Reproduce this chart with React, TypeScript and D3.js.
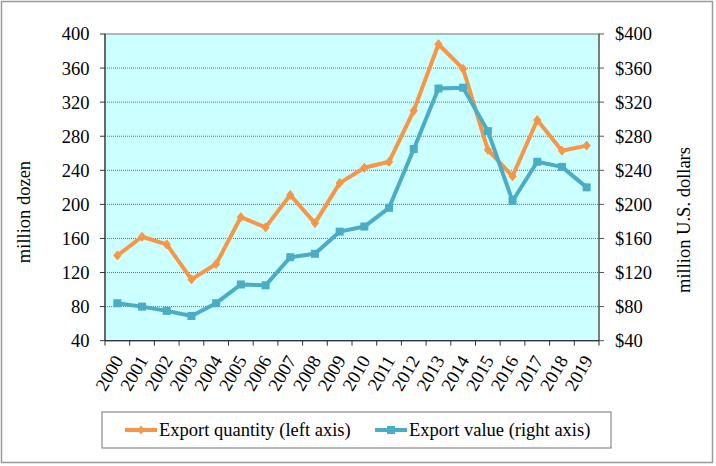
import React from "react";
import * as d3 from "d3";

const years = ["2000","2001","2002","2003","2004","2005","2006","2007","2008","2009","2010","2011","2012","2013","2014","2015","2016","2017","2018","2019"];
const exportQuantity = [140, 162, 153, 112, 130, 185, 173, 211, 178, 225, 243, 250, 310, 388, 359, 264, 233, 299, 263, 269];
const exportValue = [84, 80, 75, 69, 84, 106, 105, 138, 142, 168, 174, 196, 265, 336, 337, 286, 204, 250, 244, 220];
const leftTicks = [40, 80, 120, 160, 200, 240, 280, 320, 360, 400];
const rightTicks = [40, 80, 120, 160, 200, 240, 280, 320, 360, 400];

const W = 716, H = 466;
const plot = { x0: 105, x1: 599, y0: 34, y1: 340.7 };
const FONT = "Liberation Serif, Tinos, DejaVu Serif, serif";
const FS = 18.5;
const ORANGE = "#F79646";
const TEAL = "#4BACC6";

export default function App() {
  const x = d3.scaleBand<string>().domain(years).range([plot.x0, plot.x1]);
  const yL = d3.scaleLinear().domain([40, 400]).range([plot.y1, plot.y0]);
  const yR = d3.scaleLinear().domain([40, 400]).range([plot.y1, plot.y0]);
  const cx = (d: string) => (x(d) as number) + x.bandwidth() / 2;

  const lineQ = d3.line<number>().x((_, i) => cx(years[i])).y((v) => yL(v));
  const lineV = d3.line<number>().x((_, i) => cx(years[i])).y((v) => yR(v));

  const diamond = (px: number, py: number, r = 4.5) =>
    `M${px},${py - r}L${px + r * 0.8},${py}L${px},${py + r}L${px - r * 0.8},${py}Z`;

  const boundaries = d3.range(years.length + 1).map((i) => plot.x0 + i * x.bandwidth());
  const ts = { fontFamily: FONT, fontSize: FS } as React.CSSProperties;

  return (
    <svg width={W} height={H} style={{ position: "absolute", left: 0, top: 0, background: "#fff" }}>
      <rect x={1.5} y={1.5} width={711} height={461} fill="#fff" stroke="#9a9a9a" strokeWidth={1.5} />
      <rect x={plot.x0} y={plot.y0} width={plot.x1 - plot.x0} height={plot.y1 - plot.y0} fill="#CCFFFF" />
      {leftTicks.slice(1, -1).map((t) => (
        <line key={"g" + t} x1={plot.x0} x2={plot.x1} y1={yL(t)} y2={yL(t)} stroke="#6f6f6f" strokeWidth={1} strokeDasharray="1,1" />
      ))}
      <rect x={plot.x0} y={plot.y0} width={plot.x1 - plot.x0} height={plot.y1 - plot.y0} fill="none" stroke="#8a8a8a" strokeWidth={1.2} />
      <line x1={plot.x0} x2={plot.x0} y1={plot.y0} y2={plot.y1} stroke="#333" strokeWidth={1.2} />
      {leftTicks.map((t) => (
        <g key={"l" + t}>
          <line x1={plot.x0 - 5} x2={plot.x0} y1={yL(t)} y2={yL(t)} stroke="#333" />
          <text x={89.5} y={yL(t)} dy="0.35em" textAnchor="end" style={ts} fill="#000">{t}</text>
        </g>
      ))}
      <line x1={plot.x1} x2={plot.x1} y1={plot.y0} y2={plot.y1} stroke="#555" strokeWidth={1.2} />
      {rightTicks.map((t) => (
        <g key={"r" + t}>
          <line x1={plot.x1} x2={plot.x1 + 5} y1={yR(t)} y2={yR(t)} stroke="#555" />
          <text x={615} y={yR(t)} dy="0.35em" textAnchor="start" style={ts} fill="#000">{"$" + t}</text>
        </g>
      ))}
      <line x1={plot.x0} x2={plot.x1} y1={plot.y1} y2={plot.y1} stroke="#333" strokeWidth={1.2} />
      {boundaries.map((b, i) => (
        <line key={"b" + i} x1={b} x2={b} y1={plot.y1} y2={plot.y1 + 5} stroke="#333" />
      ))}
      {years.map((yr) => (
        <text key={"t" + yr} transform={`translate(${cx(yr) + 1},${357}) rotate(-60)`} textAnchor="end" dy="0.35em" style={ts} fill="#000">{yr}</text>
      ))}
      <text transform={`translate(30,212) rotate(-90)`} textAnchor="middle" style={ts} fill="#000">million dozen</text>
      <text transform={`translate(690,220) rotate(-90)`} textAnchor="middle" style={ts} fill="#000">million U.S. dollars</text>

      <path d={lineQ(exportQuantity) || ""} fill="none" stroke={ORANGE} strokeWidth={4} strokeLinejoin="round" />
      {exportQuantity.map((v, i) => (
        <path key={"q" + i} d={diamond(cx(years[i]), yL(v))} fill={ORANGE} stroke={ORANGE} strokeWidth={1} />
      ))}
      <path d={lineV(exportValue) || ""} fill="none" stroke={TEAL} strokeWidth={4} strokeLinejoin="round" />
      {exportValue.map((v, i) => (
        <rect key={"v" + i} x={cx(years[i]) - 4} y={yR(v) - 4} width={8} height={8} fill={TEAL} />
      ))}

      <rect x={102} y={412} width={509} height={36} fill="#fff" stroke="#8a8a8a" strokeWidth={1.2} />
      <line x1={125} x2={157} y1={430} y2={430} stroke={ORANGE} strokeWidth={4} />
      <path d={diamond(141, 430)} fill={ORANGE} />
      <text x={159} y={436} style={ts} fill="#000">Export quantity (left axis)</text>
      <line x1={375} x2={407} y1={430} y2={430} stroke={TEAL} strokeWidth={4} />
      <rect x={387} y={426} width={8} height={8} fill={TEAL} />
      <text x={409} y={436} style={ts} fill="#000">Export value (right axis)</text>
    </svg>
  );
}
